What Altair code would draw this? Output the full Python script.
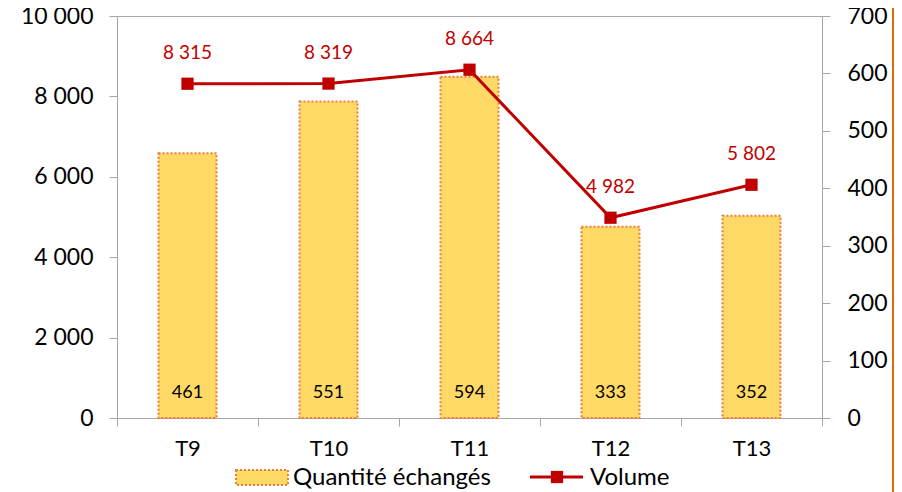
import altair as alt
import pandas as pd

# ---- data ----
periods = ["T9", "T10", "T11", "T12", "T13"]
quantites = [461, 551, 594, 333, 352]
volumes = [8315, 8319, 8664, 4982, 5802]
left_ticks = [0, 2000, 4000, 6000, 8000, 10000]
right_ticks = [0, 100, 200, 300, 400, 500, 600, 700]
chart_title = "Synthèse échanges"
legend_labels = ["Quantité échangés", "Volume"]

df = pd.DataFrame({"periode": periods, "quantite": quantites, "volume": volumes})
one = pd.DataFrame({"k": [0]})

FONT = "Lato"
GRAY = "#A6A6A6"
RED = "#C00000"
FILL = "#FFD966"
ORANGE = "#ED7D31"

x_enc = alt.X(
    "periode:N", sort=periods, title=None,
    scale=alt.Scale(paddingInner=0, paddingOuter=0),
    axis=alt.Axis(labelAngle=0, tickBand="extent", tickSize=8, labelFontSize=22,
                  labelPadding=12, domainColor=GRAY, tickColor=GRAY,
                  labelColor="black", labelFont=FONT),
)

right_scale = alt.Scale(domain=[0, 700])
left_scale = alt.Scale(domain=[0, 10000])

bars = alt.Chart(df).mark_bar(
    size=58, fill=FILL, stroke=ORANGE, strokeWidth=2, strokeDash=[2, 2]
).encode(
    x=x_enc,
    y=alt.Y("quantite:Q", scale=right_scale, title=None,
            axis=alt.Axis(orient="right", values=right_ticks, grid=False, tickSize=8,
                          labelPadding=17, labelFontSize=23, labelFont=FONT,
                          labelColor="black", domainColor=GRAY, tickColor=GRAY)),
)

bar_labels = alt.Chart(df).mark_text(
    dy=-25, fontSize=18, font=FONT, color="black", baseline="middle"
).encode(
    x=alt.X("periode:N", sort=periods),
    y=alt.YDatum(0, scale=right_scale),
    text=alt.Text("quantite:Q"),
)

right_layer = alt.layer(bars, bar_labels)

line = alt.Chart(df).mark_line(color=RED, strokeWidth=3).encode(
    x=alt.X("periode:N", sort=periods),
    y=alt.Y("volume:Q", scale=left_scale, title=None,
            axis=alt.Axis(orient="left", values=left_ticks, grid=False, tickSize=8,
                          labelPadding=16, labelFontSize=23, labelFont=FONT,
                          labelColor="black", domainColor=GRAY, tickColor=GRAY,
                          labelExpr="replace(format(datum.value, ','), ',', ' ')")),
)

points = alt.Chart(df).mark_point(
    shape="square", filled=True, size=150, color=RED, opacity=1
).encode(
    x=alt.X("periode:N", sort=periods),
    y=alt.Y("volume:Q", scale=left_scale),
)

line_labels = alt.Chart(df).transform_calculate(
    lbl="replace(format(datum.volume, ','), ',', ' ')"
).mark_text(
    dy=-31, fontSize=19, font=FONT, color=RED, baseline="middle"
).encode(
    x=alt.X("periode:N", sort=periods),
    y=alt.Y("volume:Q", scale=left_scale),
    text="lbl:N",
)

left_layer = alt.layer(line, points, line_labels)

# ---- decorations: title, legend, frame line ----
title_mark = alt.Chart(one).mark_text(
    fontSize=23, font=FONT, color="black", align="center", baseline="alphabetic"
).encode(x=alt.value(323), y=alt.value(-12), text=alt.value(chart_title))

leg_swatch = alt.Chart(one).mark_rect(
    fill=FILL, stroke=ORANGE, strokeWidth=2, strokeDash=[2, 2]
).encode(x=alt.value(119), x2=alt.value(171), y=alt.value(454), y2=alt.value(469))

leg_text1 = alt.Chart(one).mark_text(
    fontSize=24, font=FONT, color="black", align="left", baseline="alphabetic"
).encode(x=alt.value(176), y=alt.value(469), text=alt.value(legend_labels[0]))

leg_line = alt.Chart(one).mark_rule(color=RED, strokeWidth=3).encode(
    x=alt.value(413), x2=alt.value(466), y=alt.value(461))

leg_point = alt.Chart(one).mark_point(
    shape="square", filled=True, size=150, color=RED, opacity=1
).encode(x=alt.value(440), y=alt.value(461))

leg_text2 = alt.Chart(one).mark_text(
    fontSize=24, font=FONT, color="black", align="left", baseline="alphabetic"
).encode(x=alt.value(473), y=alt.value(469), text=alt.value(legend_labels[1]))

frame_rule = alt.Chart(one).mark_rule(color="#E46C0A", strokeWidth=2).encode(
    x=alt.value(776), y=alt.value(-8), y2=alt.value(476))

chart = alt.layer(
    right_layer, left_layer, title_mark,
    leg_swatch, leg_text1, leg_line, leg_point, leg_text2, frame_rule
).resolve_scale(y="independent").properties(
    width=705, height=402,
    autosize=alt.AutoSizeParams(type="none"),
    padding={"left": 109, "top": 8, "right": 72, "bottom": 74},
    background="white",
).configure_view(stroke=GRAY, strokeWidth=1)

chart.save("out.html", embed_options={"renderer": "svg", "actions": False})
